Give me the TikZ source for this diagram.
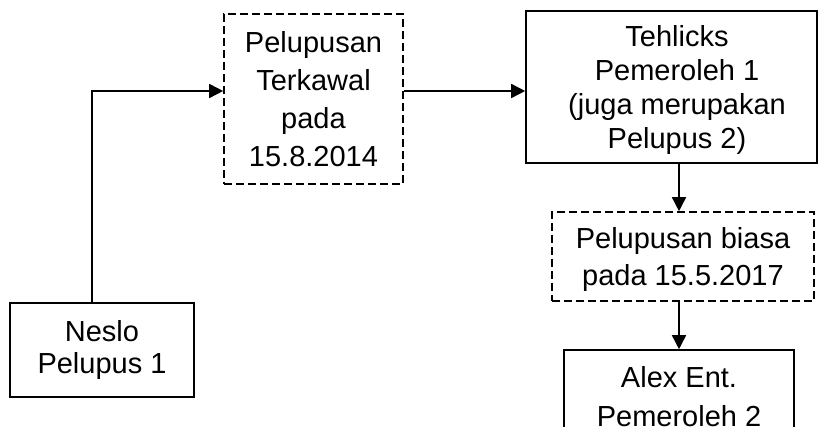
\documentclass[tikz,border=0pt]{standalone}
\usepackage{fontspec}
\setmainfont{Liberation Sans}
\usetikzlibrary{arrows.meta}
\tikzset{
  box/.style={draw=black, line width=1.6pt, inner sep=0pt, align=center, text=black},
  dbox/.style={box, dash pattern=on 8pt off 4pt},
  arr/.style={draw=black, line width=1.6pt, -{Triangle[length=14pt,width=14pt]}},
}
\newcommand{\tf}[1]{\fontsize{29}{#1}\selectfont}
\begin{document}
\begin{tikzpicture}[x=1pt,y=-1pt]
\useasboundingbox (0,0) rectangle (819,427);
\clip (0,0) rectangle (819,427);
\node[box, minimum width=184pt, minimum height=94pt, font=\tf{32}] (nes) at (102,350) {Neslo\\Pelupus 1};
\node[dbox, minimum width=179pt, minimum height=170pt, font=\tf{38}, text depth=-3pt] (pt) at (313.5,99) {Pelupusan\\Terkawal\\pada\\15.8.2014};
\node[box, minimum width=291pt, minimum height=152pt, font=\tf{34}, text depth=-8pt] (teh) at (671.5,87) {\hspace*{11pt}Tehlicks\\\hspace*{11pt}Pemeroleh 1\\\hspace*{11pt}(juga merupakan\\\hspace*{11pt}Pelupus 2)};
\node[dbox, minimum width=262pt, minimum height=89pt, font=\tf{37}, text depth=-3pt] (pb) at (683,256.5) {Pelupusan biasa\\pada 15.5.2017};
\node[box, minimum width=230pt, minimum height=94pt, font=\tf{39}, text depth=2pt] (ax) at (679,397) {Alex Ent.\\Pemeroleh 2};
\coordinate (c1) at ([xshift=-10pt]nes.north);
\coordinate (c2) at ([yshift=8pt]pt.west);
\coordinate (c3) at ([yshift=8pt]pt.east);
\draw[arr] (c1) |- (c2);
\draw[arr] (c3) -- (c3 -| teh.west);
\draw[arr] (teh.south -| ax.north) -- (pb.north -| ax.north);
\draw[arr] (pb.south -| ax.north) -- (ax.north);
\end{tikzpicture}
\end{document}
